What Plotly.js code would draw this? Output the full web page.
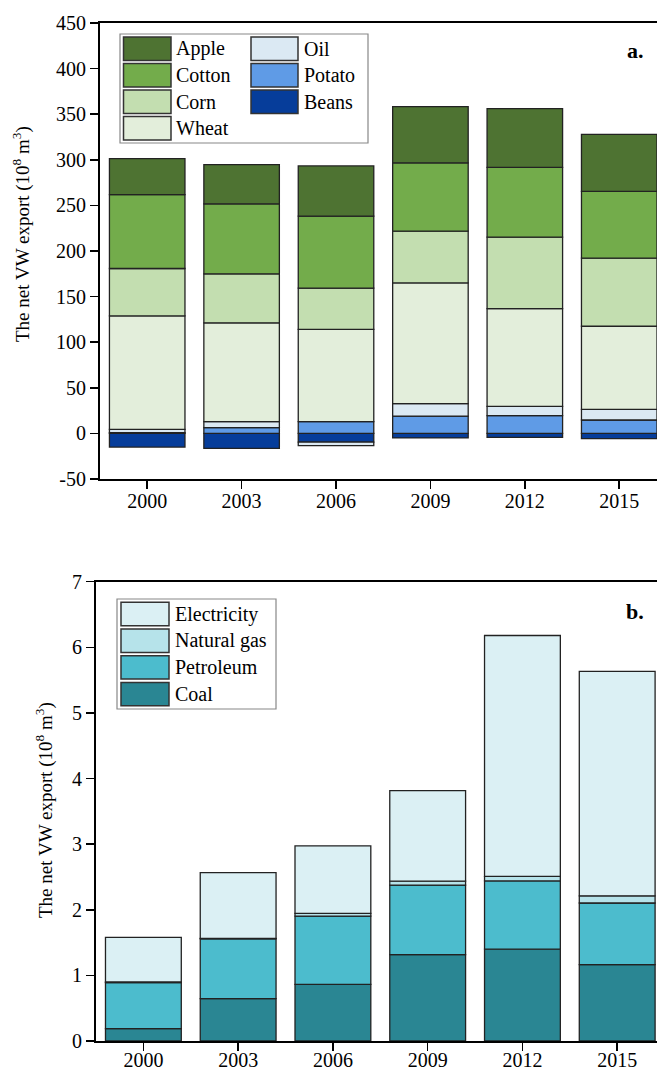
<!DOCTYPE html>
<html>
<head>
<meta charset="utf-8">
<script src="https://cdn.plot.ly/plotly-3.0.1.min.js"></script>
<style>html,body{margin:0;padding:0;background:#fff;}#chart{width:657px;height:1072px;}</style>
</head>
<body>
<div id="chart"></div>
<script>
// ---- Data ----
const years = ['2000', '2003', '2006', '2009', '2012', '2015'];

// Panel a (10^8 m3)
const apple  = [39.5, 43.0, 55.0, 61.5, 64.4, 62.6];
const cotton = [81.0, 76.7, 79.0, 75.0, 76.5, 73.2];
const corn   = [52.0, 53.8, 45.3, 56.7, 78.3, 74.6];
const wheat  = [124.4, 108.3, 101.0, 132.4, 107.2, 91.1];
const oil    = [3.6, 6.6, -4.0, 13.6, 10.2, 11.7];
const potato = [0.8, 6.3, 13.0, 19.0, 19.5, 14.7];
const beans  = [-15.0, -16.5, -9.5, -5.0, -4.4, -5.8];

// Panel b (10^8 m3)
const coal        = [0.19, 0.645, 0.864, 1.316, 1.40, 1.163];
const petroleum   = [0.70, 0.91, 1.04, 1.06, 1.04, 0.94];
const naturalGas  = [0.01, 0.01, 0.04, 0.06, 0.07, 0.11];
const electricity = [0.68, 1.00, 1.03, 1.38, 3.67, 3.42];

const namesA = ['Beans', 'Potato', 'Oil', 'Wheat', 'Corn', 'Cotton', 'Apple'];
const valsA  = [beans, potato, oil, wheat, corn, cotton, apple];
const colorsA = {Apple:'#4e7332', Cotton:'#73ac4b', Corn:'#c3deb0', Wheat:'#e3eedb',
                 Oil:'#dbe9f3', Potato:'#5f9be6', Beans:'#063d9a'};

const namesB = ['Coal', 'Petroleum', 'Natural gas', 'Electricity'];
const valsB  = [coal, petroleum, naturalGas, electricity];
const colorsB = {Electricity:'#dbf0f4', 'Natural gas':'#b6e3ea', Petroleum:'#4cbccd', Coal:'#2a8693'};

// ---- Geometry helpers (pixel -> paper) ----
const W = 657, H = 1072, ML = 96, MR = 0, MT = 23, MB = 31;
const PW = W - ML - MR, PH = H - MT - MB;
const px = x => (x - ML) / PW;
const py = y => (H - MB - y) / PH;

const FONT = 'Liberation Serif';
const lineCol = '#222';

const traces = [];
namesA.forEach((n, i) => {
  traces.push({type:'bar', x: years, y: valsA[i], name: n, xaxis:'x', yaxis:'y',
    marker:{color: colorsA[n], line:{color: lineCol, width: 1.3}}, showlegend:false,
    hovertemplate: n + ' %{x}: %{y}<extra></extra>'});
});
namesB.forEach((n, i) => {
  traces.push({type:'bar', x: years, y: valsB[i], name: n, xaxis:'x2', yaxis:'y2',
    marker:{color: colorsB[n], line:{color: lineCol, width: 1.3}}, showlegend:false,
    hovertemplate: n + ' %{x}: %{y}<extra></extra>'});
});

const axisCommon = {showline:true, linecolor:'#000', linewidth:2, ticks:'outside', ticklen:8,
  tickwidth:1.5, tickcolor:'#000', showgrid:false, zeroline:false,
  tickfont:{family: FONT, size: 20, color:'#000'}};

const ytitle = 'The net VW export (10<sup>8</sup> m<sup>3</sup>)';

const shapes = [], annotations = [];
function legendBox(x0, y0, x1, y1) {
  shapes.push({type:'rect', xref:'paper', yref:'paper', x0: px(x0), x1: px(x1), y0: py(y1), y1: py(y0),
    line:{color:'#888', width:1.2}, fillcolor:'#fff', layer:'above'});
}
function legendItem(name, color, sx0, sx1, sy0, sy1, tx) {
  shapes.push({type:'rect', xref:'paper', yref:'paper', x0: px(sx0), x1: px(sx1), y0: py(sy1), y1: py(sy0),
    line:{color:'#333', width:1.5}, fillcolor: color, layer:'above'});
  annotations.push({xref:'paper', yref:'paper', x: px(tx), y: py((sy0 + sy1) / 2), text: name,
    showarrow:false, xanchor:'left', yanchor:'middle', font:{family: FONT, size: 20, color:'#000'}});
}

// Legend a
legendBox(120, 34, 368, 143);
const colA1 = ['Apple', 'Cotton', 'Corn', 'Wheat'];
const colA2 = ['Oil', 'Potato', 'Beans'];
colA1.forEach((n, i) => legendItem(n, colorsA[n], 123.5, 171, 37 + i * 26.5, 60.5 + i * 26.5, 174));
colA2.forEach((n, i) => legendItem(n, colorsA[n], 251, 298, 37 + i * 26.5, 60.5 + i * 26.5, 302));

// Legend b
legendBox(117, 599, 276, 709);
const colB = ['Electricity', 'Natural gas', 'Petroleum', 'Coal'];
colB.forEach((n, i) => legendItem(n, colorsB[n], 121, 169, 602.3 + i * 26.7, 625.7 + i * 26.7, 173));

// Panel labels
annotations.push({xref:'paper', yref:'paper', x: px(646), y: py(50), text:'<b>a.</b>', showarrow:false,
  xanchor:'right', yanchor:'middle', font:{family: FONT, size: 22, color:'#000'}});
annotations.push({xref:'paper', yref:'paper', x: px(646), y: py(611), text:'<b>b.</b>', showarrow:false,
  xanchor:'right', yanchor:'middle', font:{family: FONT, size: 22, color:'#000'}});

// Y-axis titles
annotations.push({xref:'paper', yref:'paper', x: px(21), y: py(234), text: ytitle, textangle:-90,
  showarrow:false, xanchor:'center', yanchor:'middle', font:{family: FONT, size: 19, color:'#000'}});
annotations.push({xref:'paper', yref:'paper', x: px(44), y: py(810), text: ytitle, textangle:-90,
  showarrow:false, xanchor:'center', yanchor:'middle', font:{family: FONT, size: 19, color:'#000'}});

const layout = {
  width: W, height: H,
  margin:{l: ML, r: MR, t: MT, b: MB},
  paper_bgcolor:'#fff', plot_bgcolor:'#fff',
  barmode:'relative', bargap: 0.2,
  showlegend:false,
  font:{family: FONT, color:'#000'},
  xaxis: Object.assign({}, axisCommon, {domain:[px(100), 1], anchor:'y', type:'category',
    range:[-0.5, 5.4], mirror:true, ticklabelstandoff:-5}),
  yaxis: Object.assign({}, axisCommon, {domain:[py(479), 1], anchor:'x', range:[-50, 450],
    tickvals:[-50,0,50,100,150,200,250,300,350,400,450], ticktext:['-50','0','50','100','150','200','250','300','350','400','450']}),
  xaxis2: Object.assign({}, axisCommon, {domain:[px(96), 1], anchor:'y2', type:'category',
    range:[-0.5, 5.42], mirror:true, ticklabelstandoff:-8}),
  yaxis2: Object.assign({}, axisCommon, {domain:[0, py(581.7)], anchor:'x2', range:[0, 7], dtick: 1}),
  shapes: shapes,
  annotations: annotations
};

Plotly.newPlot('chart', traces, layout, {displayModeBar:false, staticPlot:true});
</script>
</body>
</html>
